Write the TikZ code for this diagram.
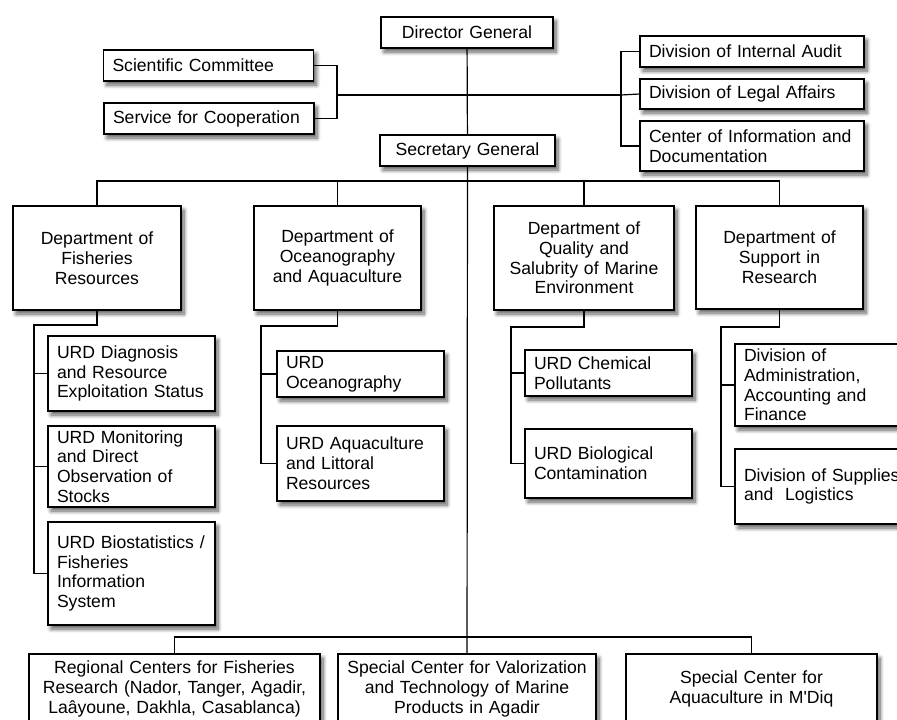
\documentclass[tikz,border=0pt]{standalone}
\usepackage{fontspec}
\setmainfont{Liberation Sans}[Ligatures=TeXOff]
\usepackage{tikz}
\usetikzlibrary{positioning,calc,shadows,shadows.blur}

\newcommand{\boxfont}{\fontsize{17.6}{19.8}\selectfont}

\begin{document}
\begin{tikzpicture}[
    x=1pt, y=-1pt,
    unit/.style={rectangle, draw, line width=1.3pt, fill=white, inner xsep=9pt, inner ysep=2pt,
        align=left, font=\boxfont,
        blur shadow={shadow xshift=3pt, shadow yshift=-4pt, shadow blur steps=8, shadow blur radius=4pt, shadow opacity=65}},
    dept/.style={unit, align=center},
    link/.style={line width=1.2pt},
]
    \useasboundingbox (0,0) rectangle (897,720);
    \clip (0,0) rectangle (897,720);

    \node[dept, text width=154pt, minimum height=31pt] (dg) at (467,32.5) {Director General};
    \node[unit, text width=192pt, minimum height=31pt] (sci) at (208.5,65.5) {Scientific Committee};
    \node[unit, text width=192pt, minimum height=31pt] (coop) at (209,118.5) {Service for Cooperation};
    \node[unit, text width=206pt, minimum height=31pt] (audit) at (752,51.5) {Division of Internal Audit};
    \node[unit, text width=206pt, minimum height=30pt] (legal) at (752,94) {Division of Legal Affairs};
    \node[unit, text width=206pt, minimum height=50pt] (cid) at (752,146) {Center of Information and\\Documentation};
    \node[dept, text width=157pt, minimum height=31pt] (sg) at (467.5,150.5) {Secretary General};

    \node[dept, text width=150pt, minimum height=104pt] (dfr) at (97,258) {Department of\\Fisheries\\Resources};
    \node[dept, text width=149pt, minimum height=104pt] (doa) at (337.5,258) {Department of\\Oceanography\\and Aquaculture};
    \node[dept, text width=162pt, minimum height=104pt] (dqs) at (584,258) {Department of\\Quality and\\Salubrity of Marine\\Environment};
    \node[dept, text width=149pt, minimum height=103pt] (dsr) at (779.5,257.5) {Department of\\Support in\\Research};

    \node[unit, text width=149pt, minimum height=75pt] (urd1) at (131.5,373.5) {URD Diagnosis\\and Resource\\Exploitation Status};
    \node[unit, text width=149pt, minimum height=81pt] (urd2) at (131.5,466.5) {URD Monitoring\\and Direct\\Observation of\\Stocks};
    \node[unit, text width=149pt, minimum height=103pt] (urd3) at (131.5,573.5) {URD Biostatistics /\\Fisheries\\Information\\System};
    \node[unit, text width=149pt, minimum height=46pt] (urdo) at (360.5,374) {URD\\Oceanography};
    \node[unit, text width=149pt, minimum height=75pt] (urda) at (360.5,463.5) {URD Aquaculture\\and Littoral\\Resources};
    \node[unit, text width=149pt, minimum height=46pt] (urdc) at (608.5,373) {URD Chemical\\Pollutants};
    \node[unit, text width=149pt, minimum height=69pt] (urdb) at (608.5,463.5) {URD Biological\\Contamination};
    \node[unit, text width=175pt, minimum height=82pt] (dadm) at (831.5,385) {Division of\\Administration,\\Accounting and\\Finance};
    \node[unit, text width=175pt, minimum height=75pt] (dsup) at (831.5,486.5) {Division of Supplies\\and\ \ Logistics};

    \node[dept, text width=273pt, minimum height=70pt] (rc) at (174.5,689) {Regional Centers for Fisheries\\Research (Nador, Tanger, Agadir,\\Laâyoune, Dakhla, Casablanca)};
    \node[dept, text width=240pt, minimum height=70pt] (val) at (467,689) {Special Center for Valorization\\and Technology of Marine\\Products in Agadir};
    \node[dept, text width=233pt, minimum height=70pt] (aqm) at (751.5,689) {Special Center for\\Aquaculture in M'Diq};

    \coordinate (lbr) at (337,95);
    \coordinate (rbr) at (621,95);
    \coordinate (sgbar) at (467,181);
    \coordinate (botbar) at (467,637);
    \coordinate (fbr) at (34,325);
    \coordinate (obr) at (261,326);
    \coordinate (qbr) at (511,327);
    \coordinate (sbr) at (721,327);

    \draw[link] (dg) -- (sg);
    \draw[link] (sg) -- (val);
    \draw[link] (sci.east) -| (lbr) |- (coop.east);
    \draw[link] (lbr) -- (rbr);
    \draw[link] (audit.west) -| (rbr) |- (cid.west);
    \draw[link] (rbr) -- (legal.west);

    \draw[link] (dfr.north) |- (sgbar) -| (dsr.north);
    \draw[link] (doa.north) -- (doa.north |- sgbar);
    \draw[link] (dqs.north) -- (dqs.north |- sgbar);

    \draw[link] (dfr.south) |- (fbr) |- (urd3.west);
    \draw[link] (fbr |- urd1.west) -- (urd1.west);
    \draw[link] (fbr |- urd2.west) -- (urd2.west);
    \draw[link] (doa.south) |- (obr) |- (urda.west);
    \draw[link] (obr |- urdo.west) -- (urdo.west);
    \draw[link] (dqs.south) |- (qbr) |- (urdb.west);
    \draw[link] (qbr |- urdc.west) -- (urdc.west);
    \draw[link] (dsr.south) |- (sbr) |- (dsup.west);
    \draw[link] (sbr |- dadm.west) -- (dadm.west);

    \draw[link] (rc.north) |- (botbar) -| (aqm.north);
\end{tikzpicture}
\end{document}
